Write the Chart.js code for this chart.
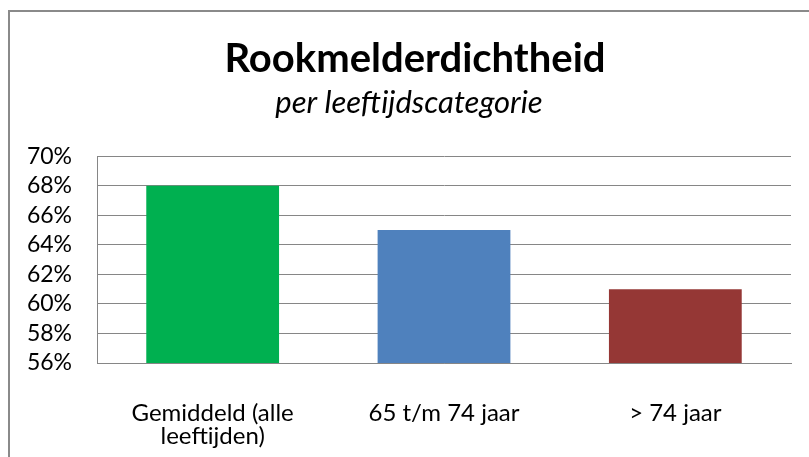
<!DOCTYPE html>
<html>
<head>
<meta charset="utf-8">
<script src="https://cdn.jsdelivr.net/npm/chart.js@4/dist/chart.umd.min.js"></script>
<style>
  html, body { margin: 0; padding: 0; background: #fff; }
  #wrap { position: relative; width: 809px; height: 457px; overflow: hidden; }
  #frame { position: absolute; left: 8px; top: 10px; width: 900px; height: 600px;
           border-left: 2px solid #8a8a8a; border-top: 2px solid #8a8a8a; }
  canvas { position: absolute; left: 0; top: 0; }
</style>
</head>
<body>
<div id="wrap">
  <div id="frame"></div>
  <canvas id="c" width="809" height="457"></canvas>
</div>
<script>
const categories = [["Gemiddeld (alle", "leeftijden)"], "65 t/m 74 jaar", "> 74 jaar"];
const values = [68, 65, 61];
const barColors = ["#00B050", "#4F81BD", "#953735"];
const yMin = 56, yMax = 70, yStep = 2;
const titleText = "Rookmelderdichtheid";
const subtitleText = "per leeftijdscategorie";

const FONT = "Lato, Carlito, Calibri, 'Open Sans', sans-serif";

const titleShift = {
  id: "titleShift",
  afterLayout(chart) {
    if (chart.titleBlock) { chart.titleBlock.left += 12; }
  }
};

new Chart(document.getElementById("c"), {
  type: "bar",
  data: {
    labels: categories,
    datasets: [{
      data: values,
      backgroundColor: barColors,
      borderWidth: 0,
      categoryPercentage: 1.0,
      barPercentage: 0.574
    }]
  },
  plugins: [titleShift],
  options: {
    responsive: false,
    animation: false,
    layout: { padding: { left: 27, right: 18, top: 0, bottom: 0 } },
    plugins: {
      legend: { display: false },
      tooltip: { enabled: false },
      title: {
        display: true,
        text: titleText,
        color: "#000",
        font: { family: FONT, size: 40, weight: "bold" },
        padding: { top: 35, bottom: 1 }
      },
      subtitle: {
        display: true,
        text: subtitleText,
        color: "#000",
        font: { family: FONT, size: 31, style: "italic" },
        padding: { top: 0, bottom: 35 }
      }
    },
    scales: {
      y: {
        min: yMin, max: yMax,
        afterFit: s => { s.width = 70; },
        ticks: {
          stepSize: yStep,
          autoSkip: false,
          color: "#000",
          font: { family: FONT, size: 23, lineHeight: 1.0 },
          padding: 25,
          callback: v => v + "%"
        },
        grid: { color: "#868686", lineWidth: 1, drawTicks: false },
        border: { display: true, color: "#868686", width: 1 }
      },
      x: {
        afterFit: s => { s.height = 94; },
        ticks: {
          color: "#000",
          font: { family: FONT, size: 24, lineHeight: 0.96 },
          padding: 39,
          maxRotation: 0,
          autoSkip: false
        },
        grid: { display: false, drawTicks: false },
        border: { display: true, color: "#868686", width: 1 }
      }
    }
  }
});
</script>
</body>
</html>
